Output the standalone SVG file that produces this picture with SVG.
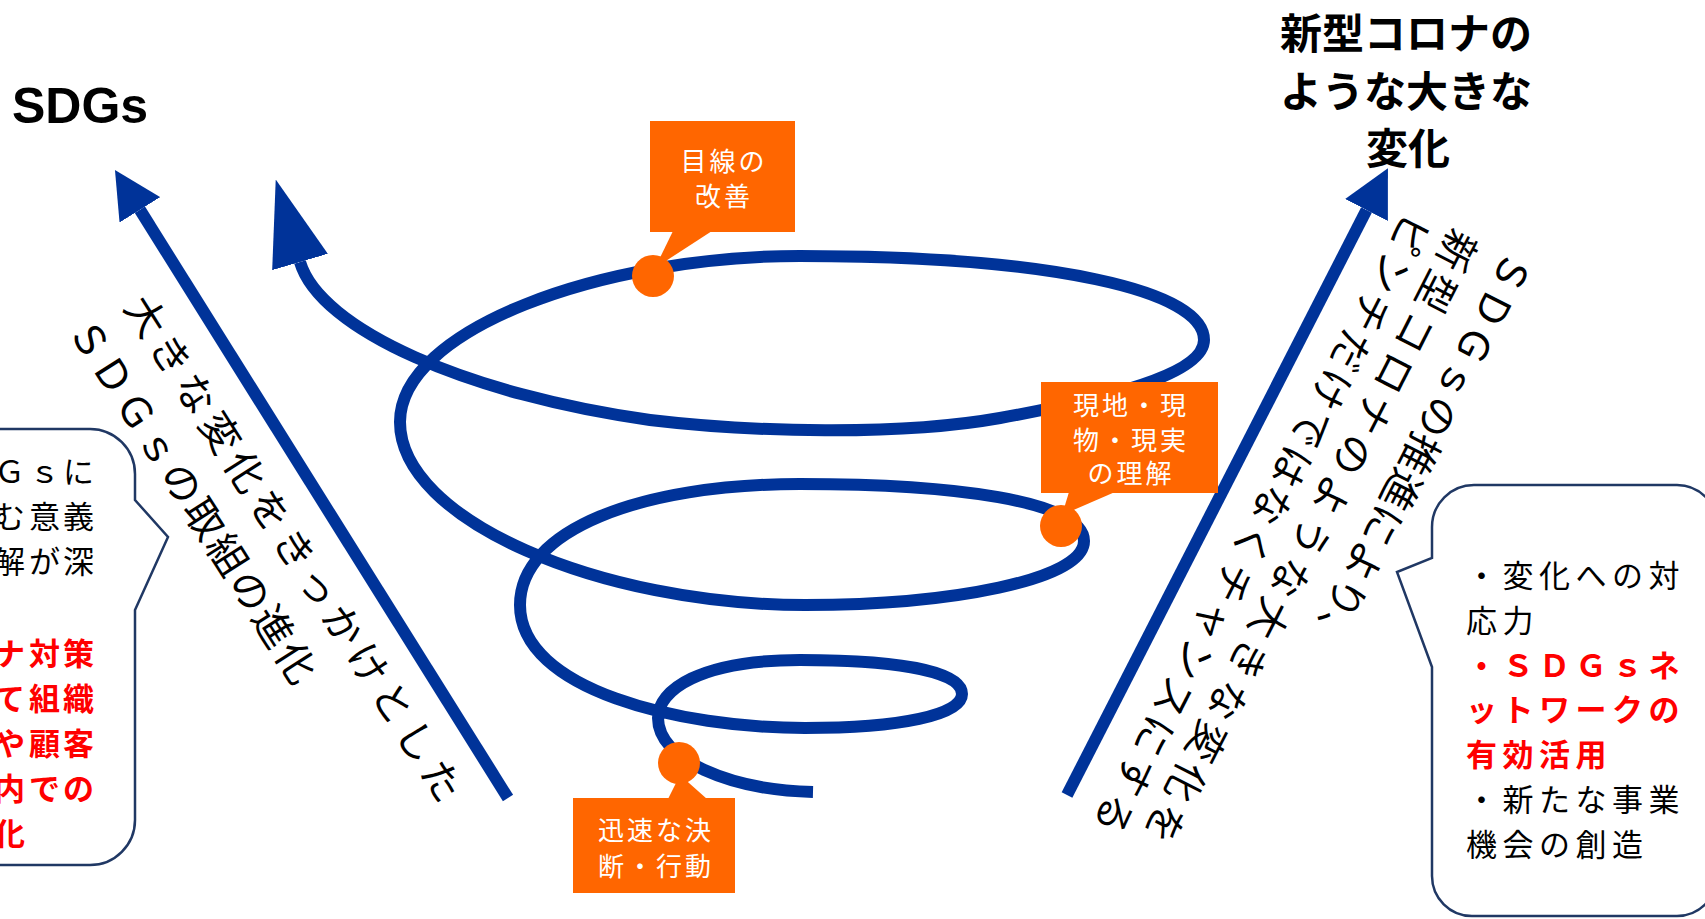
<svg xmlns="http://www.w3.org/2000/svg" width="1705" height="919" viewBox="0 0 1705 919">
<defs>
<style>
text{font-family:"Noto Sans CJK JP","Noto Sans",sans-serif}
.blue{fill:none;stroke:#003399;stroke-width:12}
.box{fill:#FF6600}
.lt{fill:#ffffff;font-size:26px;letter-spacing:3px;text-anchor:middle}
.rot{font-size:40px;fill:#000000}
.call{fill:#ffffff;stroke:#203864;stroke-width:2.5}
.ct{font-size:31px;fill:#000000}
.red{fill:#FF0000;font-weight:bold}
.title{font-weight:bold;fill:#000000}
</style>
<marker id="head" viewBox="0 0 47 48" markerUnits="userSpaceOnUse" markerWidth="47" markerHeight="48" refX="0" refY="24" orient="auto"><path d="M0,0 L47,24 L0,48 Z" fill="#003399"/></marker>
<marker id="head2" viewBox="0 0 86 58" markerUnits="userSpaceOnUse" markerWidth="86" markerHeight="58" refX="0" refY="29" orient="auto-start-reverse"><path d="M0,0 L86,29 L0,58 Z" fill="#003399"/></marker>
</defs>
<rect width="1705" height="919" fill="#ffffff"/>

<g id="title-sdgs"><text x="12" y="123" style="font-family:'Liberation Sans',Arial,sans-serif;font-size:50px;font-weight:bold">SDGs</text></g>

<g id="title-corona" class="title" text-anchor="middle" font-size="42">
<text x="1406" y="49">新型コロナの</text>
<text x="1406" y="107">ような大きな</text>
<text x="1408" y="164">変化</text>
</g>

<g id="callout-left">
<path class="call" d="M -60,429 H 90 A 45 45 0 0 1 135 474 V 500 L 168 537 L 135 610 V 820 A 45 45 0 0 1 90 865 H -60 Z"/>
<text class="ct" x="-6 29 63" y="483">Ｇｓに</text>
<text class="ct" x="-6 29 63" y="528">む意義</text>
<text class="ct" x="-6 29 63" y="573">解が深</text>
<text class="ct red" x="-6 29 63" y="665">ナ対策</text>
<text class="ct red" x="-6 29 63" y="710">て組織</text>
<text class="ct red" x="-6 29 63" y="755">や顧客</text>
<text class="ct red" x="-6 29 63" y="800">内での</text>
<text class="ct red" x="-6" y="845">化</text>
</g>

<g id="callout-right">
<path class="call" d="M 1474,485 H 1677 A 40 40 0 0 1 1717 525 V 876 A 40 40 0 0 1 1677 916 H 1472 A 40 40 0 0 1 1432 876 V 667 L 1397 572 L 1432 558 V 527 A 42 42 0 0 1 1474 485 Z"/>
<g style="letter-spacing:5.5px">
<text class="ct" x="1466" y="587">・変化への対</text>
<text class="ct" x="1466" y="632">応力</text>
<text class="ct red" x="1466" y="677">・ＳＤＧｓネ</text>
<text class="ct red" x="1466" y="721">ットワークの</text>
<text class="ct red" x="1466" y="766">有効活用</text>
<text class="ct" x="1466" y="811">・新たな事業</text>
<text class="ct" x="1466" y="856">機会の創造</text>
</g>
</g>

<g id="connectors">
<line class="blue" x1="508" y1="798" x2="139.9" y2="209.8" marker-end="url(#head)"/>
<line class="blue" x1="1067" y1="795" x2="1366.5" y2="210" marker-end="url(#head)"/>
<path class="blue" marker-start="url(#head2)" d="M300,262 C320,330 470,395 650,420 C750,432 900,436 1000,418 C1100,400 1204,375 1204,340 C1204,290 1050,256 800,256 C600,256 400,330 400,422 C400,520 600,605 805,605 C950,605 1084,580 1084,541 C1084,500 950,484 800,484 C640,484 520,530 520,605 C520,690 680,728 805,728 C900,728 962,715 962,694 C962,668 880,660 800,660 C700,660 658,690 658,718 C658,760 730,790 813,792"/>
</g>

<g id="text-left-arrow">
<text class="rot" transform="translate(146.5,316) rotate(57.5)" x="-20" y="15" style="letter-spacing:6px">大きな変化をきっかけとした</text>
<text class="rot" transform="translate(90.5,339) rotate(57.5)" x="-20" y="15" style="letter-spacing:2.6px">ＳＤＧｓの取組の進化</text>
</g>

<g id="text-right-arrow">
<text class="rot" transform="translate(1512,273) rotate(117)" x="-20" y="15" style="letter-spacing:0.6px">ＳＤＧｓの推進により、</text>
<text class="rot" transform="translate(1457,251) rotate(117)" x="-20" y="15" style="letter-spacing:5.9px">新型コロナのような大きな変化を</text>
<text class="rot" transform="translate(1410,235) rotate(117)" x="-20" y="15" style="letter-spacing:3.4px">ピンチだけではなくチャンスにする</text>
</g>

<g id="label-mesen">
<polygon class="box" points="673,231 712,231 655,268"/>
<circle class="box" cx="653" cy="276" r="21"/>
<rect class="box" x="650" y="121" width="145" height="111"/>
<text class="lt" x="724" y="171">目線の</text>
<text class="lt" x="724" y="206">改善</text>
</g>

<g id="label-genchi">
<polygon class="box" points="1069,492 1115,492 1062,515"/>
<circle class="box" cx="1061" cy="526" r="21"/>
<rect class="box" x="1041" y="382" width="177" height="111"/>
<text class="lt" x="1131" y="415">現地・現</text>
<text class="lt" x="1131" y="450">物・現実</text>
<text class="lt" x="1131" y="483">の理解</text>
</g>

<g id="label-jinsoku">
<polygon class="box" points="668,799 707,799 680,775"/>
<circle class="box" cx="679" cy="763" r="21"/>
<rect class="box" x="573" y="798" width="162" height="95"/>
<text class="lt" x="656" y="840">迅速な決</text>
<text class="lt" x="656" y="876">断・行動</text>
</g>
</svg>
